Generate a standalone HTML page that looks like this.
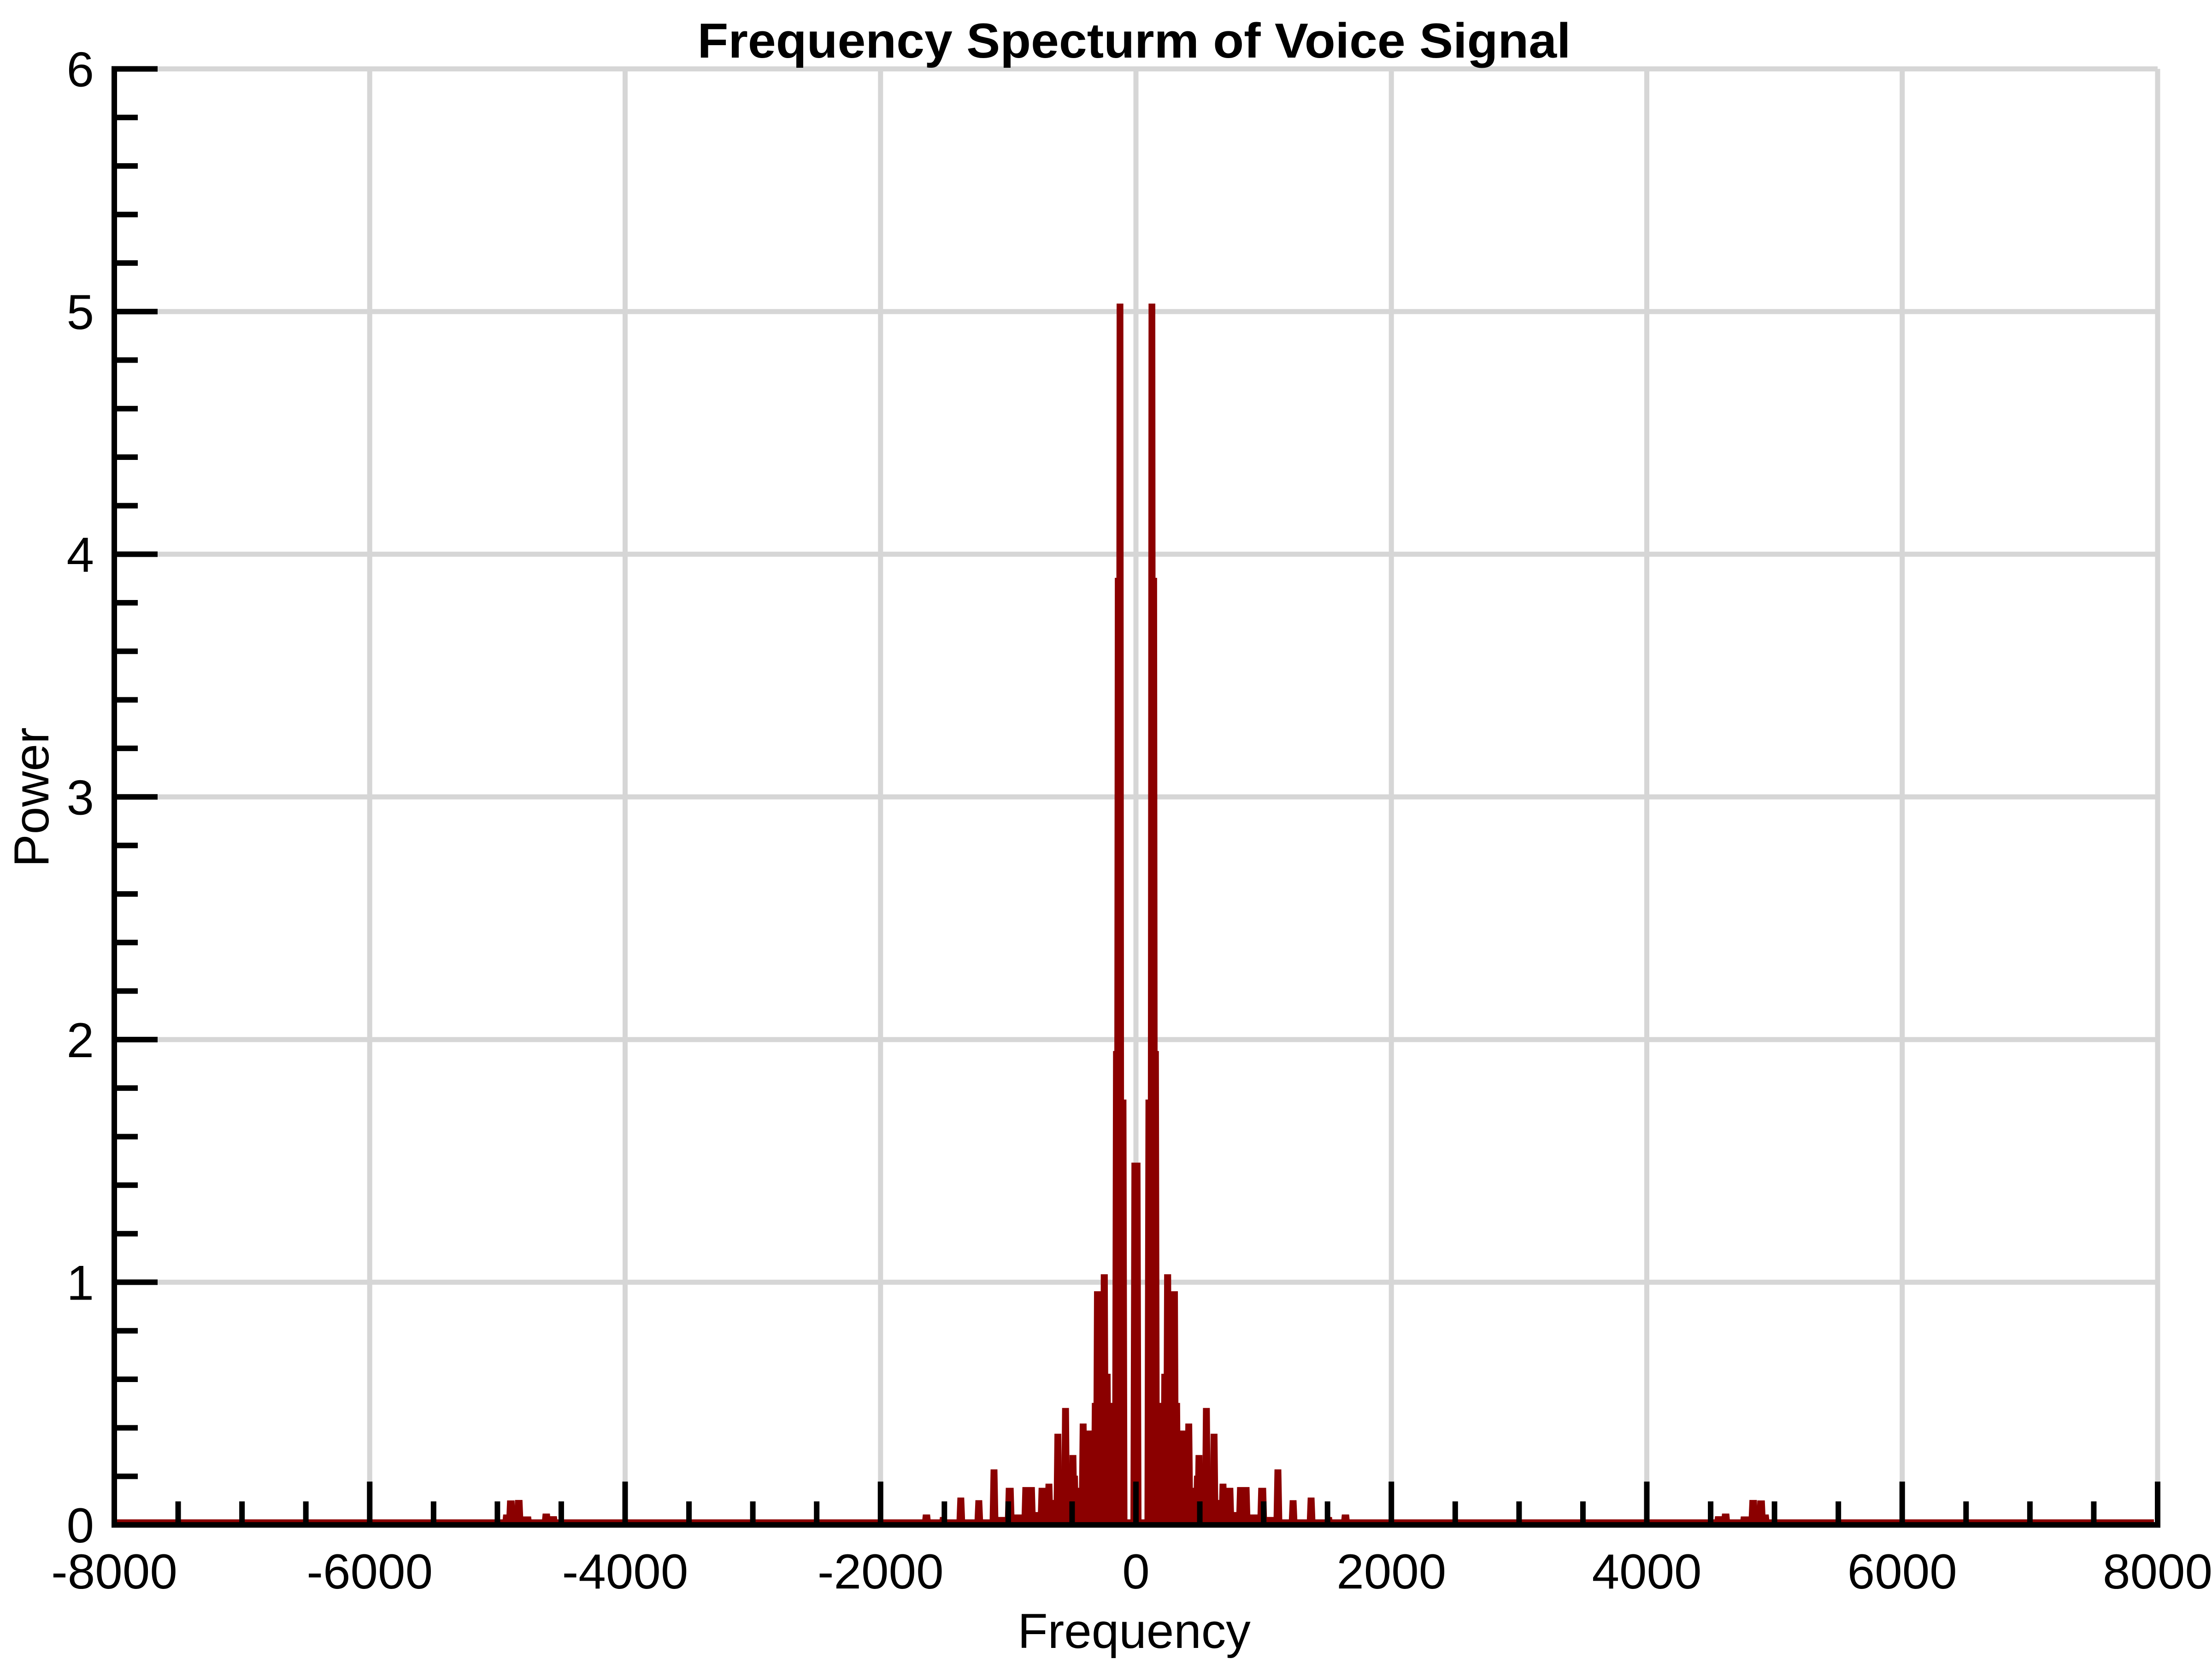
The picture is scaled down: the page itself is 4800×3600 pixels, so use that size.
<!DOCTYPE html>
<html><head><meta charset="utf-8">
<style>
html,body{margin:0;padding:0;background:#fff;}
svg{display:block;}
text{font-family:"Liberation Sans",sans-serif;fill:#000;}
</style></head>
<body>
<svg id="chart" width="4800" height="3600" viewBox="0 0 4800 3600" xmlns="http://www.w3.org/2000/svg">
  <rect width="4800" height="3600" fill="#fff"/>
  <g id="grid"></g>
  <g id="series"></g>
  <g id="axes"></g>
  <text x="2461" y="125" text-anchor="middle" font-weight="bold" font-size="107" textLength="1895" lengthAdjust="spacingAndGlyphs">Frequency Specturm of Voice Signal</text>
  <text x="2461" y="3576" text-anchor="middle" font-size="107">Frequency</text>
  <text transform="translate(105,1730) rotate(-90)" text-anchor="middle" font-size="107">Power</text>
</svg>
<script>
// Data (positive-frequency half; spectrum is mirrored about 0)
const segLo  = [80,104,146,160,174,195,204,226,270,280,323,340,352,392,435,460,472,515,530,573,590,633,655,660,703,714,757,797,884,963,1014,1090,1209,1350,1500,1617,4539,4594,4684,4741,4809,4871,4919,4950,5056,5370,6187];
const segHi  = [104,146,160,174,195,204,226,270,280,323,340,352,392,435,460,472,515,530,573,590,633,655,660,703,714,757,797,884,963,1014,1090,1133,1252,1393,1530,1664,4587,4641,4738,4802,4857,4919,4950,4990,5175,5421,6270];
const segPow = [1.75,5.03,3.9,1.95,0.5,0.3,0.62,1.03,0.75,0.96,0.5,0.2,0.386,0.415,0.15,0.2,0.285,0.15,0.479,0.2,0.373,0.1,0.05,0.167,0.05,0.15,0.05,0.153,0.04,0.15,0.03,0.226,0.099,0.11,0.03,0.04,0.033,0.044,0.013,0.032,0.10,0.098,0.04,0.017,0.014,0.014,0.01];
const dcPower = 1.49;
const dcHalfWidth = 30;
const xTicks = [-8000,-6000,-4000,-2000,0,2000,4000,6000,8000];
const xTickLabels = ["-8000","-6000","-4000","-2000","0","2000","4000","6000","8000"];
const yTicks = [0,1,2,3,4,5,6];
const yTickLabels = ["0","1","2","3","4","5","6"];

const L=248, R=4682, T=149.5, B=3309;
const xMin=-8000, xMax=8000, yMin=0, yMax=6;
const xs = f => L + (f-xMin)/(xMax-xMin)*(R-L);
const ys = p => B - (p-yMin)/(yMax-yMin)*(B-T);
const NS="http://www.w3.org/2000/svg";
function mk(tag, attrs, parent){const e=document.createElementNS(NS,tag);for(const k in attrs)e.setAttribute(k,attrs[k]);parent.appendChild(e);return e;}

const grid=document.getElementById('grid');
for(const t of xTicks){ if(t===xMin) continue;
  const g=mk('line',{x1:xs(t),x2:xs(t),y1:T,y2:B,stroke:'#d6d6d6','stroke-width':11},grid);
  
  
}
for(const t of yTicks){ if(t===yMin) continue;
  const g=mk('line',{x1:L,x2:R,y1:ys(t),y2:ys(t),stroke:'#d6d6d6','stroke-width':11},grid);
  
  
}

const series=document.getElementById('series');
const ramp=8;
function seg(lo,hi,p,name){
  const d=`M${xs(lo-ramp)},${B} L${xs(lo)},${ys(p)} L${xs(hi)},${ys(p)} L${xs(hi+ramp)},${B} Z`;
  const e=mk('path',{d:d,fill:'#8b0000',stroke:'#8b0000','stroke-width':3},series);
  
  
}
for(let i=0;i<segLo.length;i++){
  seg(segLo[i],segHi[i],segPow[i],'peak-positive');
  seg(-segHi[i],-segLo[i],segPow[i],'peak-negative');
}
seg(-dcHalfWidth,dcHalfWidth,dcPower,'peak-dc');
const base=mk('line',{x1:L,x2:R-8,y1:B-6,y2:B-6,stroke:'#8b0000','stroke-width':12},series);



const axes=document.getElementById('axes');
let a=mk('line',{x1:L,x2:L,y1:T-6,y2:B+6,stroke:'#000','stroke-width':12},axes);


a=mk('line',{x1:L-6,x2:R+6,y1:B,y2:B,stroke:'#000','stroke-width':12},axes);


for(let f=xMin+500; f<=xMax; f+=500){
  const major = (f%2000===0);
  const e=mk('line',{x1:xs(f),x2:xs(f),y1:B,y2:B-(major?94:51),stroke:'#000','stroke-width':12},axes);
  
  
}
for(let k=1;k<=30;k++){
  const p=k*0.2; const major=(k%5===0);
  const e=mk('line',{x1:L,x2:L+(major?94:51),y1:ys(p),y2:ys(p),stroke:'#000','stroke-width':12},axes);
  
  
}
xTicks.forEach((t,i)=>{
  const e=mk('text',{x:xs(t),y:3447,'text-anchor':'middle','font-size':107},axes);
  e.textContent=xTickLabels[i];
  
  
});
yTicks.forEach((t,i)=>{
  const e=mk('text',{x:204,y:ys(t)+38,'text-anchor':'end','font-size':107},axes);
  e.textContent=yTickLabels[i];
  
  
});
</script>
</body></html>
